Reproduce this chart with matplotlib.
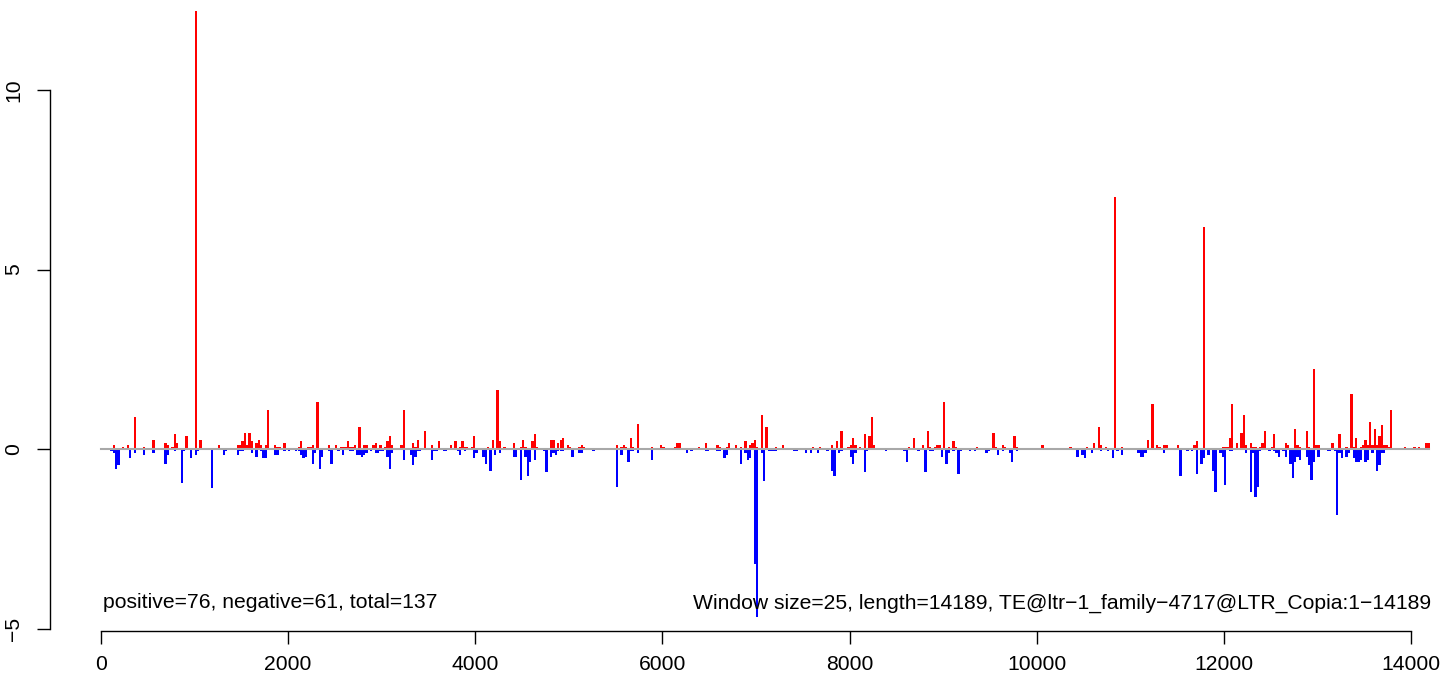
import numpy as np
import matplotlib
matplotlib.use("Agg")
import matplotlib.pyplot as plt

plt.rcParams['font.family'] = ['Liberation Sans', 'DejaVu Sans']

# --- window settings ---
window = 25
seq_len = 14189

# --- positive windows (window index, value) ---
pos_idx = [5, 9, 11, 14, 18, 22, 27, 28, 30, 31, 32, 36, 40, 42, 50, 58, 59, 60, 61, 62, 63, 64,
           66, 67, 68, 70, 71, 74, 75, 76, 78, 84, 85, 88, 89, 90, 92,
           97, 100, 102, 103, 104, 105, 106, 107, 108, 110, 112, 113, 116, 117, 119, 121, 122, 123,
           124, 128, 129, 133, 134, 135, 138, 141, 144, 149, 151, 153, 154, 155, 156, 158, 159,
           165, 167, 169, 170, 172, 176, 179, 180, 181, 184, 185, 186,
           192, 193, 195, 196, 197, 199, 200, 204, 205, 206, 220, 222, 223, 224, 226, 227, 229,
           235, 239, 240, 245, 246, 247, 255, 258, 263, 264, 267, 268, 271, 273, 275, 277, 278,
           279, 280, 282, 284,
           288, 291, 304, 307, 312, 314, 316, 319, 320, 321, 322, 324, 326, 328, 329, 330, 345,
           347, 351, 353, 354, 356, 357, 358, 360, 362, 364, 365, 374, 381, 382,
           385, 386, 390, 391, 402, 414, 421, 424, 426, 427, 429, 433, 436, 447, 449, 451, 452,
           454, 455, 460, 467, 468, 471, 479,
           480, 481, 482, 483, 485, 487, 488, 489, 491, 492, 493, 495, 496, 497, 500, 501, 506,
           507, 510, 511, 512, 515, 516, 518, 519, 520, 526, 529, 532, 534, 535, 536, 538, 539,
           540, 541, 542, 543, 544, 545, 546, 547, 548, 549, 550, 551, 557, 561, 563, 566, 567]
pos_val = [0.11, 0.06, 0.11, 0.89, 0.06, 0.25, 0.17, 0.11, 0.06, 0.42, 0.17, 0.36, 12.2, 0.25,
           0.11, 0.11, 0.11, 0.22, 0.45, 0.11, 0.45, 0.22,
           0.17, 0.25, 0.11, 0.11, 1.09, 0.11, 0.06, 0.06, 0.17, 0.06, 0.22, 0.06, 0.06, 0.11, 1.31,
           0.11, 0.11, 0.06, 0.06, 0.06, 0.22, 0.06, 0.06, 0.11, 0.61, 0.11, 0.11, 0.11, 0.17, 0.11,
           0.06, 0.22, 0.36,
           0.11, 0.11, 1.09, 0.17, 0.06, 0.25, 0.5, 0.11, 0.22, 0.11, 0.22, 0.06, 0.22, 0.06, 0.06,
           0.06, 0.36,
           0.06, 0.25, 1.64, 0.22, 0.06, 0.17, 0.06, 0.25, 0.06, 0.22, 0.42, 0.06,
           0.25, 0.25, 0.17, 0.25, 0.31, 0.11, 0.06, 0.06, 0.11, 0.06, 0.11, 0.06, 0.11, 0.06, 0.31,
           0.06, 0.7,
           0.06, 0.11, 0.06, 0.06, 0.17, 0.17, 0.06, 0.17, 0.11, 0.06, 0.06, 0.17, 0.11, 0.06, 0.22,
           0.11, 0.17,
           0.25, 0.06, 0.95, 0.61,
           0.06, 0.11, 0.06, 0.06, 0.11, 0.22, 0.5, 0.06, 0.11, 0.31, 0.11, 0.06, 0.42, 0.36, 0.89,
           0.11, 0.06,
           0.31, 0.11, 0.5, 0.06, 0.06, 0.11, 0.11, 1.31, 0.06, 0.22, 0.06, 0.06, 0.45, 0.06,
           0.11, 0.06, 0.36, 0.06, 0.11, 0.06, 0.06, 0.17, 0.61, 0.11, 0.06, 7.02, 0.06, 0.25, 1.25,
           0.11, 0.06,
           0.11, 0.11, 0.11, 0.11, 0.22, 6.18, 0.06,
           0.06, 0.06, 0.31, 1.25, 0.17, 0.45, 0.95, 0.11, 0.17, 0.06, 0.06, 0.06, 0.17, 0.5, 0.06,
           0.42, 0.17,
           0.11, 0.56, 0.11, 0.06, 0.5, 0.06, 2.23, 0.11, 0.11, 0.17, 0.42, 0.06, 1.53, 0.06, 0.31,
           0.06, 0.11,
           0.25, 0.11, 0.75, 0.11, 0.56, 0.11, 0.36, 0.67, 0.11, 0.11, 0.06, 1.09, 0.06, 0.06, 0.06,
           0.17, 0.17]

# --- negative windows (window index, value) ---
neg_idx = [4, 5, 6, 7, 12, 14, 18, 22, 27, 28, 31, 34, 35, 38, 40, 41, 47, 52, 53, 58, 59, 60,
           64, 66, 68, 69, 70, 74, 75, 78, 80, 83, 84, 85, 86, 87, 90, 91, 93, 94,
           97, 98, 101, 103, 106, 107, 109, 110, 111, 112, 113, 115, 117, 118, 119, 120, 122, 123,
           124, 129, 132, 133, 134, 135, 136, 141, 142, 143, 146, 147, 152, 153, 155, 159, 160,
           163, 164, 166, 168, 170, 176, 177, 179, 181, 182, 183, 185, 189, 190,
           192, 193, 194, 195, 196, 197, 201, 204, 205, 210, 220, 222, 225, 226, 227, 229, 235,
           250, 252, 258, 259, 263, 264, 266, 267, 273, 275, 276, 277, 279, 280, 282, 283, 285,
           286, 287, 288, 296, 297, 301, 303, 306, 310, 312, 313, 315, 316, 320, 321, 322, 326,
           327, 335, 343, 344, 349, 352, 354, 355, 359, 361, 362, 364, 366, 367, 371, 373, 378,
           379, 383,
           385, 388, 389, 391, 417, 419, 420, 423, 427, 430, 432, 434, 436, 443, 444, 445, 446,
           454, 461, 464, 466, 468, 470, 471, 473, 475, 476, 478, 479, 480,
           482, 483, 489, 491, 492, 493, 494, 495, 499, 501, 502, 503, 505, 506, 508, 509, 510,
           511, 512, 515, 516, 517, 518, 520, 524, 525, 527, 528, 529, 530, 532, 533, 535, 536,
           537, 538, 540, 541, 543, 545, 546, 547, 548]
neg_val = [-0.06, -0.11, -0.56, -0.45, -0.25, -0.11, -0.17, -0.11, -0.42, -0.17, -0.06, -0.95,
           -0.06, -0.25, -0.17, -0.06, -1.09, -0.17, -0.06, -0.17, -0.06, -0.06,
           -0.11, -0.22, -0.06, -0.25, -0.25, -0.17, -0.17, -0.06, -0.06, -0.06, -0.06, -0.17,
           -0.25, -0.22, -0.42, -0.11, -0.56, -0.22,
           -0.06, -0.42, -0.06, -0.17, -0.06, -0.06, -0.17, -0.17, -0.22, -0.17, -0.11, -0.06,
           -0.11, -0.11, -0.06, -0.06, -0.22, -0.56,
           -0.11, -0.31, -0.17, -0.45, -0.22, -0.06, -0.06, -0.31, -0.06, -0.06, -0.06, -0.06,
           -0.06, -0.17, -0.06, -0.25, -0.11,
           -0.22, -0.42, -0.61, -0.17, -0.11, -0.22, -0.22, -0.86, -0.22, -0.75, -0.36, -0.31,
           -0.06, -0.64,
           -0.22, -0.11, -0.17, -0.06, -0.06, -0.06, -0.22, -0.11, -0.11, -0.06, -1.06, -0.17,
           -0.36, -0.06, -0.06, -0.11, -0.31,
           -0.11, -0.06, -0.06, -0.06, -0.06, -0.06, -0.25, -0.17, -0.42, -0.11, -0.31, -0.25,
           -3.2, -4.67, -0.11, -0.89, -0.06,
           -0.06, -0.06, -0.06, -0.06, -0.06, -0.11, -0.11, -0.11, -0.06, -0.61, -0.75, -0.11,
           -0.06, -0.22, -0.42, -0.11, -0.64,
           -0.06, -0.06, -0.06, -0.36, -0.06, -0.64, -0.06, -0.06, -0.22, -0.42, -0.11, -0.06,
           -0.7, -0.06, -0.06, -0.06, -0.11,
           -0.06, -0.17,
           -0.06, -0.11, -0.36, -0.06, -0.22, -0.17, -0.25, -0.11, -0.06, -0.06, -0.25, -0.06,
           -0.17, -0.11, -0.22, -0.22, -0.11,
           -0.11, -0.75, -0.06, -0.06, -0.7, -0.42, -0.25, -0.17, -0.61, -1.2, -0.11, -0.22, -1.0,
           -0.06, -0.06, -0.11, -1.2, -0.11, -1.34, -1.06, -0.06, -0.06, -0.06, -0.11, -0.22,
           -0.06, -0.22, -0.42, -0.81, -0.36,
           -0.22, -0.31, -0.22, -0.45, -0.86, -0.36, -0.22, -0.06, -0.06, -0.06, -1.84, -0.11,
           -0.25, -0.22, -0.11, -0.25, -0.36,
           -0.36, -0.31, -0.36, -0.31, -0.11, -0.61, -0.45, -0.11, -0.11]

label_left = "positive=76, negative=61, total=137"
label_right = "Window size=25, length=14189, TE@ltr\u22121_family\u22124717@LTR_Copia:1\u221214189"

# --- figure layout (pixel based) ---
W, H = 1449, 678
fig = plt.figure(figsize=(W / 100, H / 100), dpi=100)
px_per_x = 1310 / 14000      # 0 -> px 101, 14000 -> px 1411
px_per_y = 35.9              # 0 -> px 449
ax = fig.add_axes([50 / W, (H - 631) / H, (W - 50) / W, 631 / H])
ax.set_xlim((50 - 101) / px_per_x, (W - 101) / px_per_x)
ax.set_ylim((449 - 631) / px_per_y, 449 / px_per_y)

pos_x = np.array(pos_idx) * window
neg_x = np.array(neg_idx) * window
ax.bar(pos_x, pos_val, width=window, align='edge', color='#FF0000', linewidth=0)
ax.bar(neg_x, neg_val, width=window, align='edge', color='#0000FF', linewidth=0)
ax.plot([0, seq_len], [0, 0], color='#A8A8A8', lw=1.5, zorder=3)

for s in ['top', 'right']:
    ax.spines[s].set_visible(False)
ax.spines['left'].set_bounds(-5, 10)
ax.spines['bottom'].set_bounds(0, 14000)
ax.spines['left'].set_linewidth(1.0)
ax.spines['bottom'].set_linewidth(1.0)

fs = 15.2
ax.set_xticks(np.arange(0, 14001, 2000))
ax.set_xticklabels([str(v) for v in range(0, 14001, 2000)], fontsize=fs)
ax.set_yticks([-5, 0, 5, 10])
ax.set_yticklabels(['\u22125', '0', '5', '10'], fontsize=fs, rotation=90, va='center')
ax.tick_params(axis='both', direction='out', length=9.5, width=1.0)
ax.tick_params(axis='x', pad=8)
ax.tick_params(axis='y', pad=10)

fig.text(103 / W, 1 - 603 / H, label_left, fontsize=fs, ha='left', va='center')
fig.text(1431 / W, 1 - 603 / H, label_right, fontsize=fs, ha='right', va='center')

fig.savefig("out.png", dpi=100)
